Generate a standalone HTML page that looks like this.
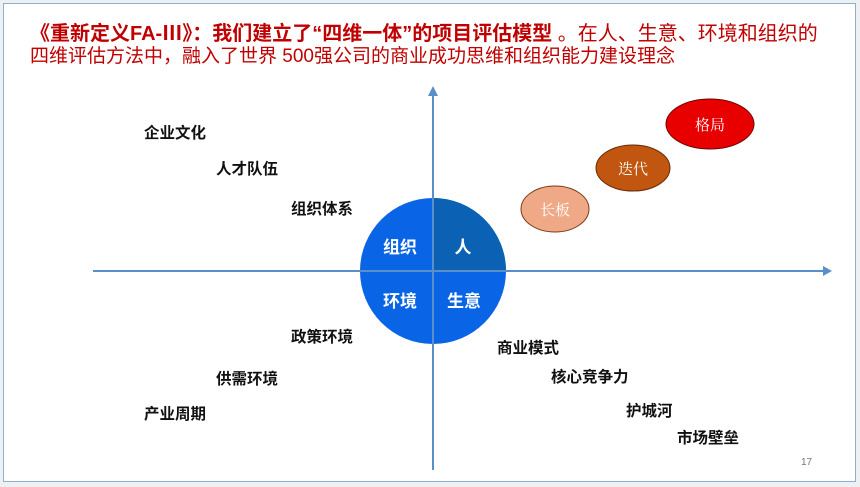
<!DOCTYPE html>
<html><head><meta charset="utf-8"><style>
body{margin:0;width:860px;height:487px;background:#eef0f2;position:relative;overflow:hidden;font-family:"Liberation Sans","Noto Sans CJK SC",sans-serif}
.frame{position:absolute;left:3px;top:3px;width:851px;height:477px;background:#fff;border:1px solid #8fb0cc}
.t{position:absolute;white-space:nowrap}
.lab{position:absolute;font-size:15.5px;font-weight:bold;color:#111;white-space:nowrap}
</style></head><body>
<div class="frame"></div>
<div class="t" style="left:30px;top:22px;font-size:20px;color:#c00000;line-height:24px"><b>《重新定义FA-Ⅲ》：我们建立了“四维一体”的项目评估模型 </b>。在人、生意、环境和组织的</div>
<div class="t" style="left:30px;top:45px;font-size:19px;color:#c00000;line-height:24px">四维评估方法中，融入了世界 500强公司的商业成功思维和组织能力建设理念</div>
<svg style="position:absolute;left:0;top:0" width="860" height="487">
<line x1="93" y1="271" x2="826" y2="271" stroke="#5b8fc7" stroke-width="2"/>
<polygon points="832,271 823,266 823,276" fill="#5b8fc7"/>
<line x1="433" y1="470" x2="433" y2="94" stroke="#5b8fc7" stroke-width="2"/>
<polygon points="433,86 428,96 438,96" fill="#5b8fc7"/>
<circle cx="433" cy="271" r="73" fill="#0a64e6"/>
<path d="M433,271 L433,198 A73,73 0 0 1 506,271 Z" fill="#0b62b4"/>
<line x1="360" y1="271" x2="506" y2="271" stroke="#5b8fc7" stroke-width="2"/>
<line x1="433" y1="198" x2="433" y2="344" stroke="#5b8fc7" stroke-width="2"/>
<g font-family="Liberation Sans,Noto Sans CJK SC,sans-serif" font-weight="bold" font-size="17" fill="#fff" text-anchor="middle">
<text x="400" y="253">组织</text><text x="463" y="253">人</text>
<text x="400" y="307">环境</text><text x="464" y="307">生意</text></g>
<ellipse cx="555" cy="209" rx="34" ry="23" fill="#f0a987" stroke="#7a3b1a"/>
<ellipse cx="633" cy="168" rx="37" ry="23" fill="#c0560f" stroke="#6a2a05"/>
<ellipse cx="710" cy="124" rx="44" ry="25" fill="#e80000" stroke="#700000"/>
<g font-family="Liberation Serif,Noto Serif CJK SC,serif" font-size="15" fill="#fff" text-anchor="middle">
<text x="555" y="215">长板</text><text x="633" y="174">迭代</text><text x="710" y="130">格局</text></g>
<text x="801" y="465" font-size="10" fill="#777" font-family="Liberation Sans,sans-serif">17</text>
</svg>
<div class="lab" style="left:144px;top:121px">企业文化</div>
<div class="lab" style="left:216px;top:157px">人才队伍</div>
<div class="lab" style="left:291px;top:197px">组织体系</div>
<div class="lab" style="left:291px;top:325px">政策环境</div>
<div class="lab" style="left:216px;top:367px">供需环境</div>
<div class="lab" style="left:144px;top:402px">产业周期</div>
<div class="lab" style="left:497px;top:336px">商业模式</div>
<div class="lab" style="left:551px;top:365px">核心竞争力</div>
<div class="lab" style="left:626px;top:399px">护城河</div>
<div class="lab" style="left:677px;top:426px">市场壁垒</div>
</body></html>
